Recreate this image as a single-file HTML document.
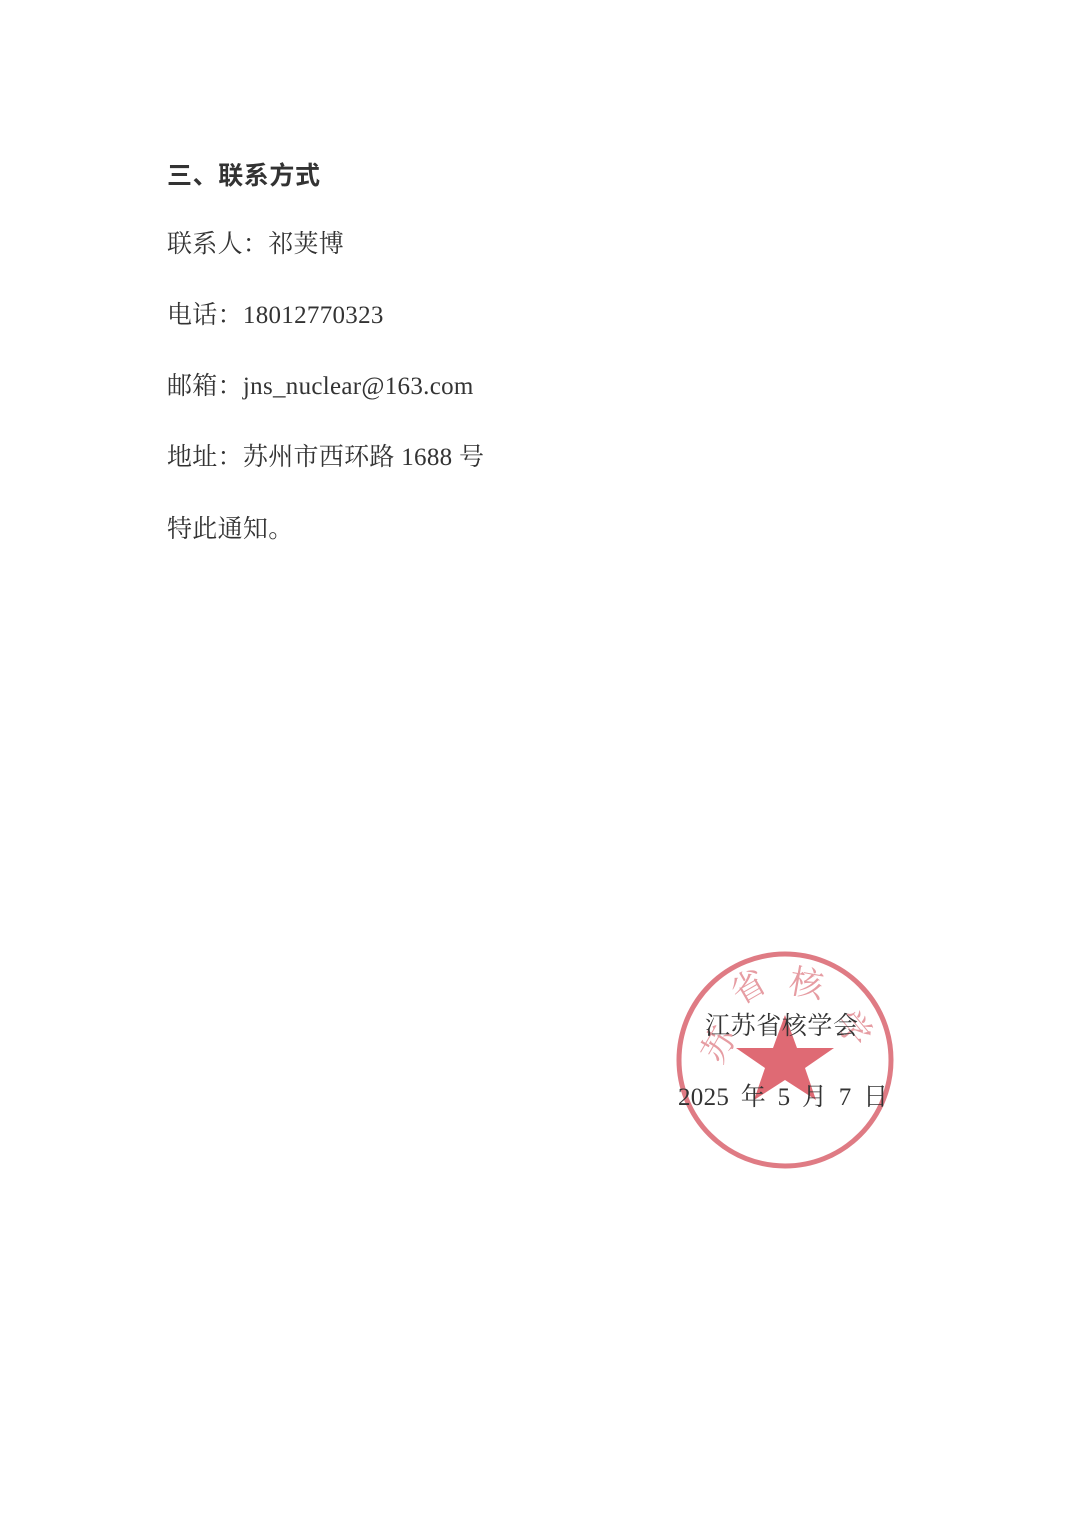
<!DOCTYPE html>
<html><head><meta charset="utf-8"><style>
html,body{margin:0;padding:0;background:#fff;}
body{width:1080px;height:1525px;position:relative;overflow:hidden;font-family:"Liberation Serif","Noto Serif CJK SC",serif;color:#333;}
.t{position:absolute;left:167px;font-size:25px;line-height:30px;white-space:nowrap;letter-spacing:0.3px;}
.b{font-family:"Noto Sans CJK SC",sans-serif;font-weight:bold;letter-spacing:0.6px;}
</style></head><body>
<div class="t b" style="top:159px;">三、联系方式</div>
<div class="t" style="top:230px;">联系人：祁荚博</div>
<div class="t" style="top:301px;">电话：18012770323</div>
<div class="t" style="top:372px;">邮箱：jns_nuclear@163.com</div>
<div class="t" style="top:443px;">地址：苏州市西环路 1688 号</div>
<div class="t" style="top:515px;">特此通知。</div>
<svg style="position:absolute;left:0;top:0" width="1080" height="1525">
<circle cx="785" cy="1060" r="106" fill="none" stroke="#d9646e" stroke-width="5" opacity="0.85"/>
<polygon points="785,1015 797,1048 834,1048 805,1068 816,1100 785,1080 754,1100 765,1068 736,1048 773,1048" fill="#d9505c" opacity="0.85"/>
<g fill="#e0848c" font-size="34" font-family="Noto Serif CJK SC,serif" opacity="0.8">
<text x="700" y="1060" transform="rotate(-60 715 1045)">苏</text>
<text x="730" y="1000" transform="rotate(-30 745 985)">省</text>
<text x="790" y="995" transform="rotate(10 805 980)">核</text>
<text x="840" y="1040" transform="rotate(50 855 1025)">学</text>
</g>
</svg>
<div class="t" style="left:705px;top:1012px;font-size:25px;letter-spacing:0.6px;">江苏省核学会</div>
<div class="t" style="left:678px;top:1083px;font-size:25px;word-spacing:5px;">2025 年 5 月 7 日</div>
</body></html>
